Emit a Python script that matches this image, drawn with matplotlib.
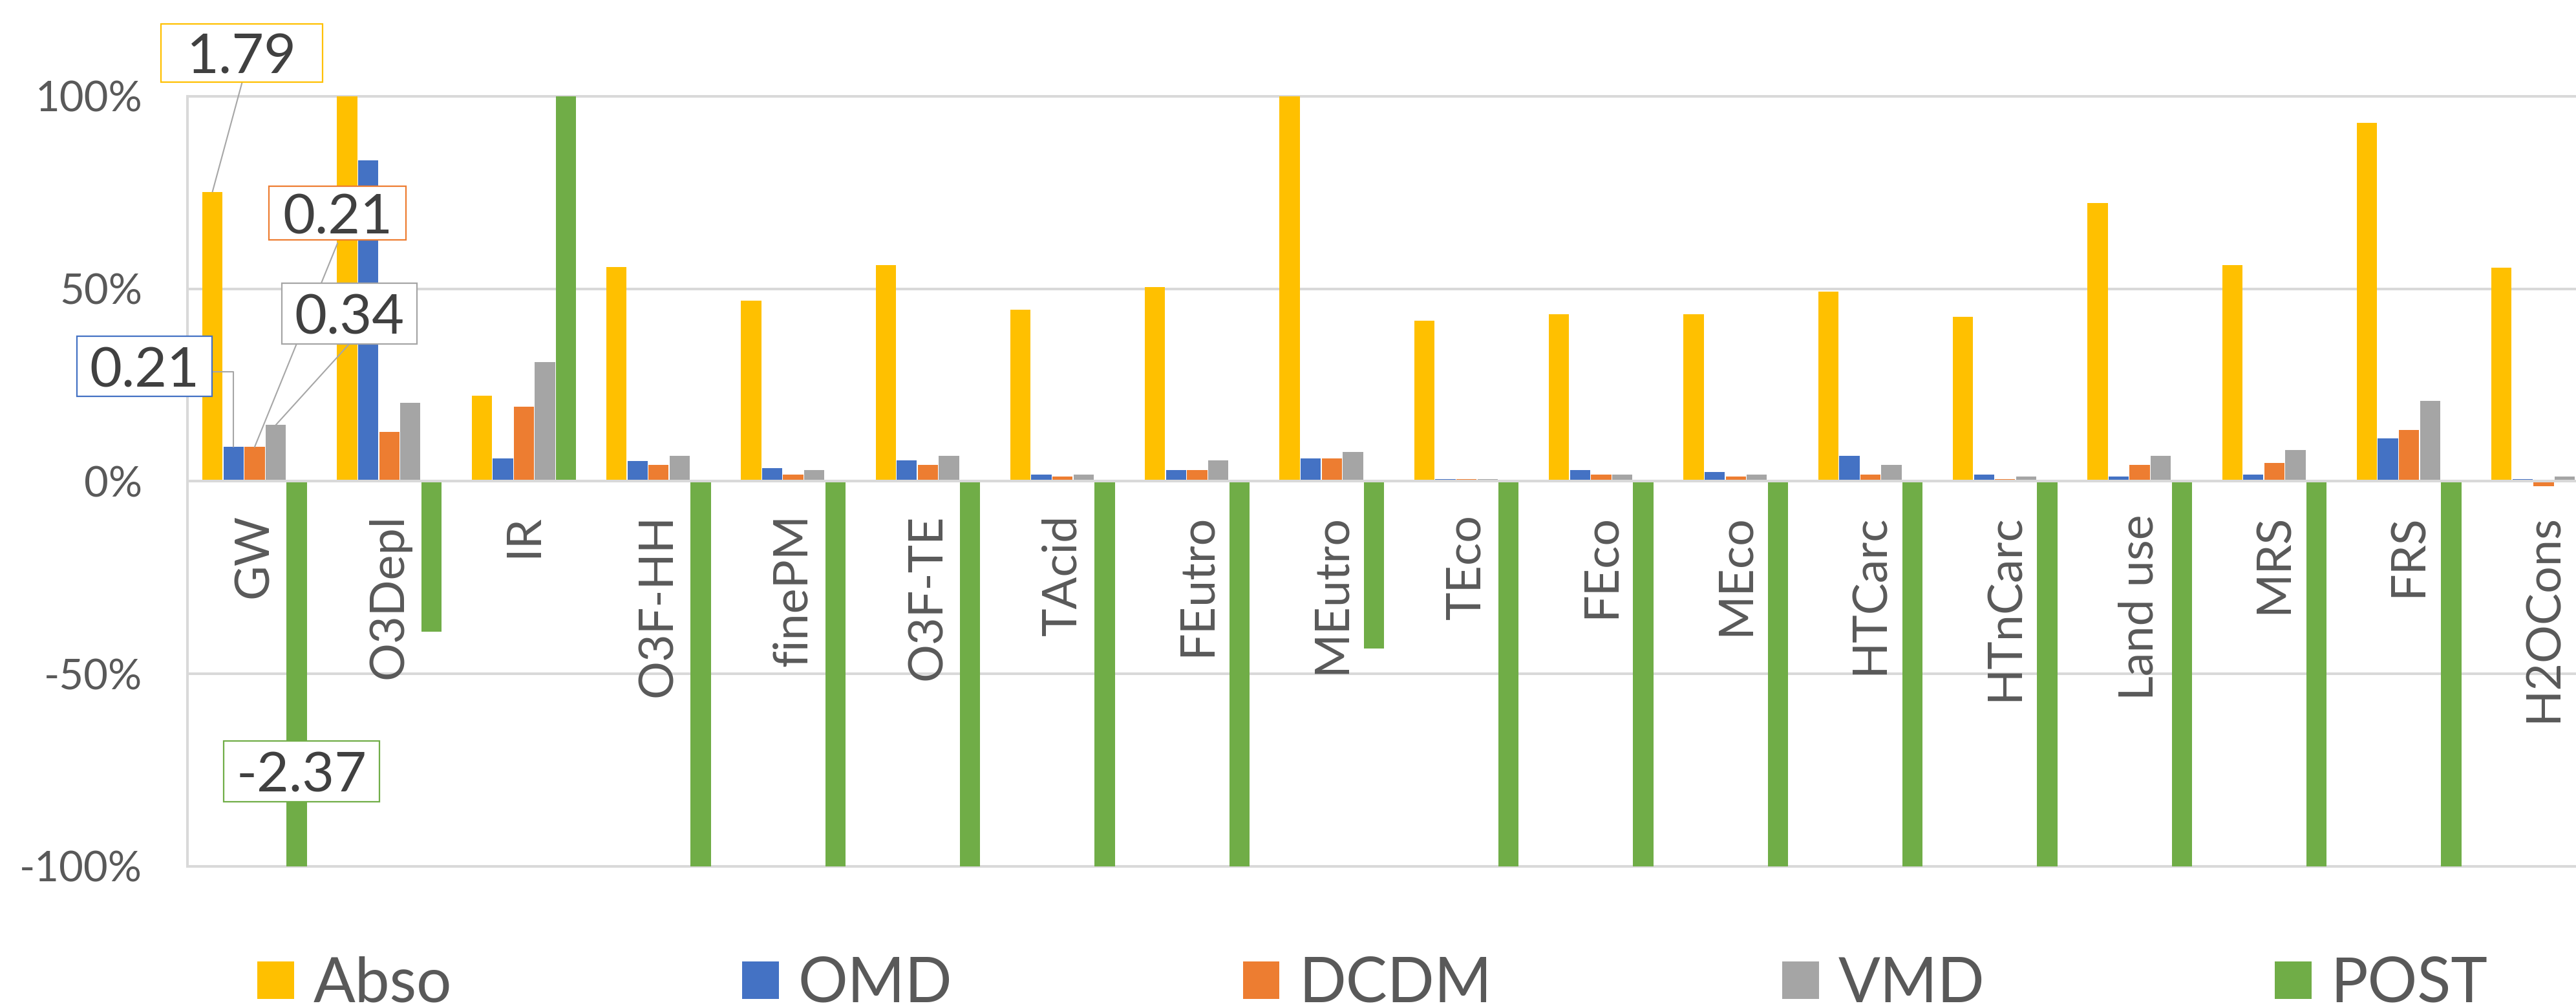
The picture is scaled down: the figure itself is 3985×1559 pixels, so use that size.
import matplotlib
matplotlib.use("Agg")
import matplotlib.pyplot as plt
import numpy as np
from matplotlib.path import Path
from matplotlib.ticker import FuncFormatter

categories = ["GW", "O3Depl", "IR", "O3F-HH", "finePM", "O3F-TE", "TAcid", "FEutro",
              "MEutro", "TEco", "FEco", "MEco", "HTCarc", "HTnCarc", "Land use", "MRS",
              "FRS", "H2OCons"]

abso = [0.752, 1.0, 0.223, 0.557, 0.469, 0.561, 0.445, 0.504, 1.0, 0.417, 0.434, 0.434,
        0.492, 0.428, 0.723, 0.561, 0.931, 0.555]
omd = [0.089, 0.834, 0.060, 0.052, 0.035, 0.054, 0.018, 0.030, 0.059, 0.006, 0.030, 0.025,
       0.066, 0.018, 0.013, 0.018, 0.111, 0.006]
dcdm = [0.089, 0.129, 0.193, 0.042, 0.018, 0.042, 0.013, 0.030, 0.059, 0.006, 0.018, 0.013,
        0.018, 0.006, 0.042, 0.048, 0.134, -0.013]
vmd = [0.146, 0.204, 0.309, 0.067, 0.030, 0.066, 0.018, 0.054, 0.076, 0.006, 0.018, 0.018,
       0.042, 0.013, 0.066, 0.082, 0.209, 0.013]
post = [-1.0, -0.39, 1.0, -1.0, -1.0, -1.0, -1.0, -1.0, -0.435, -1.0, -1.0, -1.0,
        -1.0, -1.0, -1.0, -1.0, -1.0, -1.0]

series_names = ["Abso", "OMD", "DCDM", "VMD", "POST"]
series_colors = ["#FFC000", "#4472C4", "#ED7D31", "#A5A5A5", "#70AD47"]

# value labels shown on the GW group
gw_labels = ["1.79", "0.21", "0.21", "0.34", "-2.37"]

plt.rcParams["font.family"] = ["Lato", "DejaVu Sans"]

GRID = "#D9D9D9"
TXT = "#595959"


def fixed_box(bw, bh):
    # box of fixed pixel size centred on the glyphs of the label
    def box(x0, y0, width, height, mutation_size):
        cx = x0 + width / 2
        cy = y0 + height / 2 + 0.09 * mutation_size
        pts = [(cx - bw / 2, cy - bh / 2), (cx + bw / 2, cy - bh / 2),
               (cx + bw / 2, cy + bh / 2), (cx - bw / 2, cy + bh / 2),
               (cx - bw / 2, cy - bh / 2)]
        return Path(pts, closed=True)
    return box


fig = plt.figure(figsize=(39.85, 15.59), dpi=100)
ax = fig.add_axes([0.0727, 0.1405, 0.9409, 0.7640])

x = np.arange(len(categories))
w = 0.1565
bars = []
for k, (name, vals, col) in enumerate(zip(series_names, [abso, omd, dcdm, vmd, post], series_colors)):
    b = ax.bar(x + (k - 2) * w, vals, w * 0.96, color=col, label=name, zorder=2)
    bars.append(b)

ax.set_xlim(-0.5, len(categories) - 0.5)
ax.set_ylim(-1, 1)
ax.set_yticks([-1, -0.5, 0, 0.5, 1])
ax.yaxis.set_major_formatter(FuncFormatter(lambda v, p: f"{v * 100:.0f}%"))
ax.tick_params(axis="y", length=0, pad=50, labelsize=47, labelcolor=TXT)
ax.set_xticks([])
ax.yaxis.grid(True, color=GRID, lw=2.9)
ax.set_axisbelow(True)
ax.axhline(0, color=GRID, lw=2.9, zorder=3)
for s in ax.spines.values():
    s.set_color(GRID)
    s.set_linewidth(2.9)
    s.set_zorder(1)

for i, c in enumerate(categories):
    ax.text(i, -0.085, c, rotation=90, ha="center", va="top", fontsize=53, color=TXT, zorder=4)


def bar_top(k):
    r = bars[k][0]
    return r.get_x() + r.get_width() / 2, r.get_height()


# (series, text position, box size, relpos, connection)
ann = [
    (0, (-0.094, 1.10), (250, 90), (0.5, 0), "arc3", 5),
    (2, (0.616, 0.684), (212, 83), (0.5, 0), "arc3", 5),
    (3, (0.705, 0.423), (209, 94), (0.5, 0), "arc3", 6),
    (1, (-0.817, 0.285), (209, 93), (1, 0.5), "angle,angleA=0,angleB=90,rad=0", 5),
]
for k, pos, size, rel, conn, z in ann:
    ax.annotate(gw_labels[k], xy=bar_top(k), xytext=pos, textcoords="data",
                ha="center", va="center", fontsize=62, color="#404040",
                bbox=dict(boxstyle=fixed_box(*size), fc="white", ec=series_colors[k], lw=1.6),
                arrowprops=dict(arrowstyle="-", color="#A6A6A6", lw=1.5, relpos=rel,
                                shrinkA=0, shrinkB=0, connectionstyle=conn),
                annotation_clip=False, zorder=z)

ax.text(0.35, -0.766, gw_labels[4], ha="center", va="center", fontsize=62, color="#404040",
        bbox=dict(boxstyle=fixed_box(241, 94), fc="white", ec=series_colors[4], lw=1.6), zorder=6)

fig.legend(handles=bars, labels=series_names, loc="lower left", bbox_to_anchor=(0.0999, -0.005),
           ncol=5, frameon=False, fontsize=69, labelcolor=TXT, handlelength=0.59,
           handleheight=0.55, handletextpad=0.31, columnspacing=4.69, borderpad=0,
           borderaxespad=0)

fig.savefig("out.png", dpi=100)
